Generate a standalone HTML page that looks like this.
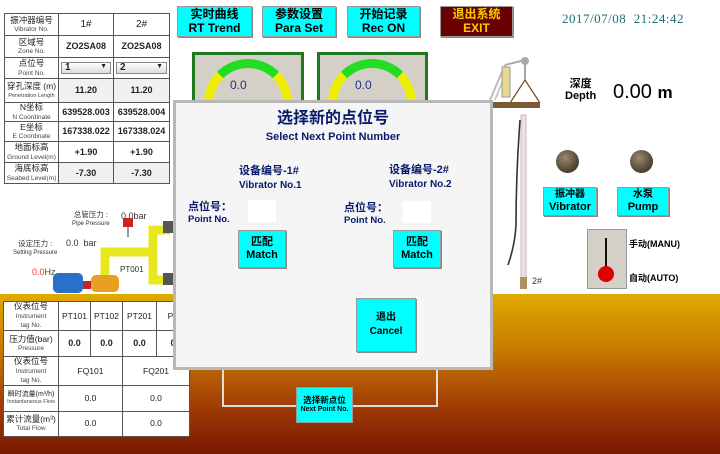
<!DOCTYPE html>
<html><head><meta charset="utf-8"><style>
*{margin:0;padding:0;box-sizing:border-box}
body{width:720px;height:454px;overflow:hidden;background:#fff;position:relative;font-family:"Liberation Sans","Noto Sans CJK SC",sans-serif;}
.a{position:absolute}
.btn{position:absolute;background:#00ffff;border:1px solid #999;box-shadow:1px 1px 0 #888;font-weight:bold;color:#000;display:flex;flex-direction:column;align-items:center;justify-content:center;line-height:1.15}
table{border-collapse:collapse;position:absolute;background:#fff;table-layout:fixed}
td{border:1px solid #555;text-align:center;font-size:8.5px;color:#222;padding:0;line-height:1.0;white-space:nowrap;overflow:hidden}
td small{font-size:6.5px;color:#444}
.nv{font-weight:bold;font-size:9px}
.g{background:#f0f0f0}
.d{color:#0a1a6a;font-weight:bold}
</style></head><body>
<div class="a" style="left:0;top:294px;width:720px;height:160px;background:linear-gradient(#e0aa00 0%,#c87a00 35%,#a03c05 70%,#7a1800 100%)"></div>

<table style="left:4px;top:13px;width:166px">
<colgroup><col style="width:54px"><col style="width:55px"><col></colgroup>
<tr style="height:22px"><td>振冲器编号<br><small>Vibrator No.</small></td><td style="font-size:10px">1#</td><td style="font-size:10px">2#</td></tr>
<tr style="height:22px"><td>区域号<br><small>Zone No.</small></td><td class="nv">ZO2SA08</td><td class="nv">ZO2SA08</td></tr>
<tr style="height:21px"><td>点位号<br><small>Point No.</small></td><td><div style="margin:0 2px;border:1px solid #888;background:linear-gradient(#fff,#ddd);text-align:left;padding-left:3px;font-weight:bold;font-size:10px">1 <span style="float:right;font-size:7px;padding-right:3px">▼</span></div></td><td><div style="margin:0 2px;border:1px solid #888;background:linear-gradient(#fff,#ddd);text-align:left;padding-left:3px;font-weight:bold;font-size:10px">2 <span style="float:right;font-size:7px;padding-right:3px">▼</span></div></td></tr>
<tr style="height:24px"><td>穿孔深度 (m)<br><small style="font-size:5.5px">Penetration Length</small></td><td class="nv g">11.20</td><td class="nv g">11.20</td></tr>
<tr style="height:19px"><td>N坐标<br><small>N Coordinate</small></td><td class="nv">639528.003</td><td class="nv">639528.004</td></tr>
<tr style="height:20px"><td>E坐标<br><small>E Coordinate</small></td><td class="nv">167338.022</td><td class="nv">167338.024</td></tr>
<tr style="height:21px"><td>地面标高<br><small>Ground Level(m)</small></td><td class="nv">+1.90</td><td class="nv">+1.90</td></tr>
<tr style="height:21px"><td>海底标高<br><small>Seabed Level(m)</small></td><td class="nv g">-7.30</td><td class="nv g">-7.30</td></tr>
</table>

<div class="btn" style="left:177px;top:6px;width:75px;height:31px;font-size:12px">实时曲线<span>RT Trend</span></div>
<div class="btn" style="left:262px;top:6px;width:74px;height:31px;font-size:12px">参数设置<span>Para Set</span></div>
<div class="btn" style="left:347px;top:6px;width:73px;height:31px;font-size:12px">开始记录<span>Rec ON</span></div>
<div class="btn" style="left:440px;top:6px;width:73px;height:31px;font-size:12px;background:#6b0000;color:#f5d000">退出系统<span>EXIT</span></div>
<div class="a" style="left:562px;top:11px;font-size:13px;color:#1f6f6f;font-family:'Liberation Serif',serif;letter-spacing:0.5px">2017/07/08&nbsp;&nbsp;21:24:42</div>

<div class="a" style="left:192px;top:52px;width:112px;height:60px;background:#d4d0c8;border:3px solid #1f7a1f"></div>
<div class="a" style="left:204px;top:59px;width:88px;height:88px;border-radius:50%;border:9px solid #22dd22;border-left-color:#eeee00;border-right-color:#eeee00"></div>
<div class="a" style="left:230px;top:78px;font-size:12px;color:#223388">0.0</div>
<div class="a" style="left:317px;top:52px;width:111px;height:60px;background:#d4d0c8;border:3px solid #1f7a1f"></div>
<div class="a" style="left:328px;top:59px;width:88px;height:88px;border-radius:50%;border:9px solid #22dd22;border-left-color:#eeee00;border-right-color:#eeee00"></div>
<div class="a" style="left:355px;top:78px;font-size:12px;color:#223388">0.0</div>

<svg class="a" style="left:480px;top:55px" width="80" height="245">
<line x1="10" y1="45" x2="25" y2="10" stroke="#bbb" stroke-width="2"/>
<line x1="15" y1="45" x2="28" y2="12" stroke="#bbb" stroke-width="1.5"/>
<rect x="22" y="12" width="8" height="30" fill="#e8d890" stroke="#999"/>
<line x1="25" y1="10" x2="45" y2="5" stroke="#aaa" stroke-width="2"/>
<circle cx="45" cy="6" r="4" fill="#aaa"/>
<line x1="45" y1="25" x2="30" y2="48" stroke="#7a4a1a" stroke-width="1.2"/>
<line x1="45" y1="25" x2="60" y2="48" stroke="#7a4a1a" stroke-width="1.2"/>
<line x1="45" y1="10" x2="45" y2="25" stroke="#888" stroke-width="1.5"/>
<rect x="10" y="47" width="50" height="6" fill="#7a5a30"/>
<rect x="41" y="60" width="5" height="165" fill="#f0e0e0" stroke="#aaa" stroke-width="0.7"/>
<path d="M40 65 Q36 120 36 170 Q35 190 28 210" stroke="#333" stroke-width="1.6" fill="none"/>
<rect x="40" y="222" width="7" height="12" fill="#b09060"/>
<text x="52" y="229" font-size="9" fill="#333" font-family="Liberation Sans">2#</text>
</svg>

<div class="a" style="left:565px;top:78px;font-size:11px;font-weight:bold;text-align:center;line-height:1.1">深度<br>Depth</div>
<div class="a" style="left:613px;top:81px;font-size:20px">0.00 <b style="font-size:17px">m</b></div>
<div class="a" style="left:556px;top:150px;width:23px;height:23px;border-radius:50%;background:radial-gradient(circle at 40% 35%,#9a8a70,#4a3e2e 70%)"></div>
<div class="a" style="left:630px;top:150px;width:23px;height:23px;border-radius:50%;background:radial-gradient(circle at 40% 35%,#9a8a70,#4a3e2e 70%)"></div>
<div class="btn" style="left:543px;top:187px;width:54px;height:29px;font-size:10px">振冲器<span style="font-size:11px">Vibrator</span></div>
<div class="btn" style="left:617px;top:187px;width:52px;height:29px;font-size:10px">水泵<span style="font-size:11px">Pump</span></div>
<div class="a" style="left:587px;top:229px;width:40px;height:60px;background:#d4d0c8;border:1px solid #999"></div>
<div class="a" style="left:605px;top:238px;width:2px;height:30px;background:#111"></div>
<div class="a" style="left:598px;top:266px;width:16px;height:16px;border-radius:50%;background:#dd0000"></div>
<div class="a" style="left:629px;top:237px;font-size:9px;font-weight:bold">手动(MANU)</div>
<div class="a" style="left:629px;top:271px;font-size:9px;font-weight:bold">自动(AUTO)</div>

<!-- pump area -->
<div class="a" style="left:13px;top:240px;font-size:7.5px;text-align:center;line-height:1.1;color:#333">设定压力 :<br><span style="font-size:6px">Setting Pressure</span></div>
<div class="a" style="left:66px;top:238px;font-size:9px;color:#333">0.0&nbsp; bar</div>
<div class="a" style="left:72px;top:211px;font-size:7.5px;line-height:1.1;color:#333;text-align:center">总管压力 :<br><span style="font-size:6px">Pipe Pressure</span></div>
<div class="a" style="left:121px;top:211px;font-size:9px;color:#333">0.0bar</div>
<div class="a" style="left:32px;top:267px;font-size:9px;color:#444"><span style="color:#e33">0.0</span>Hz</div>
<svg class="a" style="left:45px;top:215px" width="130" height="80">
<path d="M60 65 V37 H108 V15 H125 M108 37 V65 H125" stroke="#e8e820" stroke-width="9" fill="none"/>
<rect x="78" y="3" width="10" height="9" fill="#cc2222"/><line x1="83" y1="12" x2="83" y2="22" stroke="#333"/>
<text x="75" y="57" font-size="8" fill="#333" font-family="Liberation Sans">PT001</text>
<rect x="8" y="58" width="30" height="20" rx="5" fill="#2a6fc8"/>
<rect x="38" y="66" width="8" height="8" fill="#cc2222"/>
<rect x="46" y="60" width="28" height="17" rx="5" fill="#e8a020"/>
<rect x="118" y="6" width="10" height="12" fill="#555"/><rect x="118" y="58" width="10" height="12" fill="#555"/>
</svg>

<table style="left:3px;top:301px;width:187px">
<colgroup><col style="width:55px"><col style="width:32px"><col style="width:32px"><col style="width:34px"><col></colgroup>
<tr style="height:29px"><td>仪表位号<br><small>Instrument<br>tag No.</small></td><td>PT101</td><td>PT102</td><td>PT201</td><td>PT</td></tr>
<tr style="height:26px"><td>压力值(bar)<br><small>Pressure</small></td><td class="nv">0.0</td><td class="nv">0.0</td><td class="nv">0.0</td><td class="nv">0</td></tr>
<tr style="height:26px"><td>仪表位号<br><small>Instrument<br>tag No.</small></td><td colspan="2">FQ101</td><td colspan="2">FQ201</td></tr>
<tr style="height:26px"><td style="font-size:7px">瞬时流量(m³/h)<br><small style="font-size:5.5px">Instantaneous Flow</small></td><td colspan="2">0.0</td><td colspan="2">0.0</td></tr>
<tr style="height:25px"><td>累计流量(m³)<br><small>Total Flow</small></td><td colspan="2">0.0</td><td colspan="2">0.0</td></tr>
</table>

<div class="a" style="left:222px;top:360px;width:216px;height:47px;border:2px solid #ddd;border-top:none"></div>
<div class="btn" style="left:296px;top:387px;width:57px;height:36px;font-size:8.5px;box-shadow:none">选择新点位<span style="font-size:7px">Next Point No.</span></div>

<div class="a" style="left:173px;top:100px;width:320px;height:270px;background:#f5f5f5;border:3px solid #b8b8b8"></div>
<div class="a d" style="left:173px;top:111px;width:320px;text-align:center;font-size:16px;line-height:1.05">选择新的点位号<br><span style="font-size:11px">Select Next Point Number</span></div>
<div class="a d" style="left:239px;top:164px;font-size:11px;line-height:1.3">设备编号-1#<br><span style="font-size:10px">Vibrator No.1</span></div>
<div class="a d" style="left:389px;top:163px;font-size:11px;line-height:1.3">设备编号-2#<br><span style="font-size:10px">Vibrator No.2</span></div>
<div class="a d" style="left:188px;top:202px;font-size:11px;line-height:1.05">点位号：<br><span style="font-size:9.5px">Point No.</span></div>
<div class="a d" style="left:344px;top:203px;font-size:11px;line-height:1.05">点位号：<br><span style="font-size:9.5px">Point No.</span></div>
<div class="a" style="left:248px;top:200px;width:28px;height:22px;background:#fff"></div>
<div class="a" style="left:403px;top:201px;width:28px;height:22px;background:#fff"></div>
<div class="btn" style="left:238px;top:230px;width:48px;height:38px;font-size:11px">匹配<span>Match</span></div>
<div class="btn" style="left:393px;top:230px;width:48px;height:38px;font-size:11px">匹配<span>Match</span></div>
<div class="btn" style="left:356px;top:298px;width:60px;height:54px;font-size:10px;line-height:1.4">退出<span>Cancel</span></div>
</body></html>
